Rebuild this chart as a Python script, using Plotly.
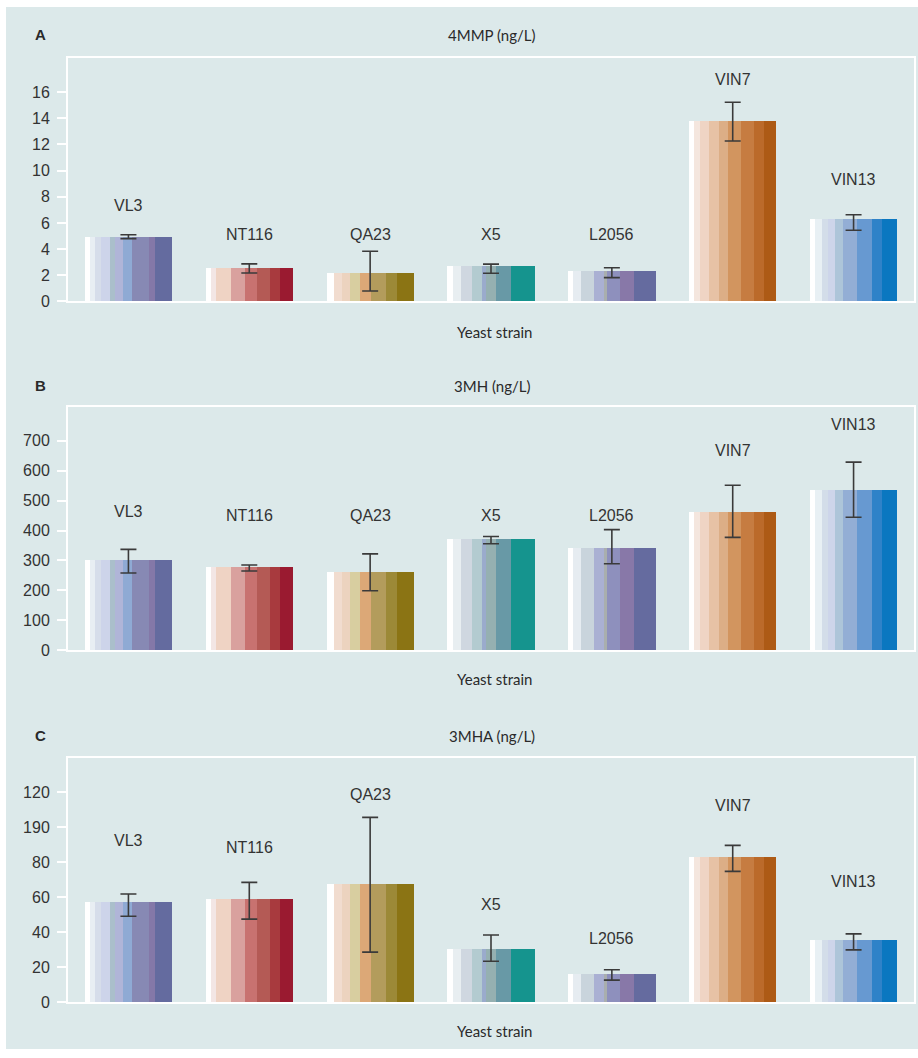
import plotly.graph_objects as go

# ---------------- data ----------------
strains = ['VL3', 'NT116', 'QA23', 'X5', 'L2056', 'VIN7', 'VIN13']

mmp4 = [5.0, 2.6, 2.22, 2.73, 2.4, 13.87, 6.33]
mmp4_err_up = [0.1, 0.27, 1.62, 0.12, 0.18, 1.36, 0.3]
mmp4_err_down = [0.2, 0.43, 1.42, 0.58, 0.58, 1.6, 0.89]
mmp4_label_y = [7.33, 5.11, 5.11, 5.11, 5.11, 16.96, 9.36]

mh3 = [302, 281, 262, 374, 344, 464, 538]
mh3_err_up = [35, 4, 60, 6, 59, 87, 90]
mh3_err_down = [44, 16, 63, 18, 55, 87, 94]
mh3_label_y = [464, 449, 449, 449, 449, 667, 755]

mha3 = [57.2, 58.9, 67.4, 30.4, 16.1, 82.8, 35.5]
mha3_err_up = [4.7, 9.6, 38.2, 8.1, 2.5, 6.8, 3.6]
mha3_err_down = [8.0, 11.4, 38.7, 6.9, 3.4, 8.0, 5.5]
mha3_label_y = [92.6, 88.5, 118.9, 56, 36.2, 112.6, 69]

tick_A = [0, 2, 4, 6, 8, 10, 12, 14, 16]
tick_B = [0, 100, 200, 300, 400, 500, 600, 700]
tick_C_vals = [0, 20, 40, 60, 80, 100, 120]
tick_C_text = ['0', '20', '40', '60', '80', '190', '120']

panel_letters = ['A', 'B', 'C']
panel_titles = ['4MMP (ng/L)', '3MH (ng/L)', '3MHA (ng/L)']
x_title = 'Yeast strain'

# ---------------- styles ----------------
W, H = 918, 1058
stripes = {
    'VL3': [('#ffffff', .06), ('#e8eef3', .06), ('#d6ddea', .07), ('#cdd4ea', .10), ('#aabfcb', .06),
            ('#b0b5d8', .09), ('#8faad4', .10), ('#8789b4', .20), ('#8478a8', .07), ('#646b9f', .19)],
    'NT116': [('#ffffff', .06), ('#f3e6e5', .06), ('#efd3c4', .17), ('#d9a19e', .16), ('#c87270', .14),
              ('#b45a55', .15), ('#a83a3e', .12), ('#9a1a30', .14)],
    'QA23': [('#ffffff', .09), ('#f1dccf', .09), ('#ecd3bf', .09), ('#d8cea0', .11), ('#dca877', .13),
             ('#b39c5c', .17), ('#9c8937', .13), ('#8b7414', .19)],
    'X5': [('#ffffff', .06), ('#e8eef1', .10), ('#cfd7e0', .12), ('#b3cbd0', .12), ('#9aabcc', .04),
           ('#95b0b1', .12), ('#6899a6', .17), ('#15948e', .27)],
    'L2056': [('#ffffff', .06), ('#e6ecf1', .09), ('#c9d4dc', .15), ('#aab0d3', .11), ('#a9aeae', .04),
              ('#8e90bd', .15), ('#8878a8', .16), ('#656b9f', .24)],
    'VIN7': [('#ffffff', .06), ('#f4e6de', .06), ('#efd4c4', .11), ('#e7c2a5', .11), ('#dcae86', .11),
             ('#d2955f', .15), ('#c67c41', .15), ('#bb6a2a', .11), ('#ad5a15', .14)],
    'VIN13': [('#ffffff', .06), ('#e8f0f4', .08), ('#d3dde9', .07), ('#cdd5ea', .08), ('#adc5d9', .09),
              ('#93aed5', .16), ('#6799d1', .17), ('#2f82c8', .12), ('#0a77c0', .17)],
}
bar_w = 0.72
outer_bg = '#dce9ea'
plot_bg = '#e7f0f1'
text_col = '#2a2a2a'
tick_font = dict(family='Liberation Sans, Arial, sans-serif', size=16, color='#333333')
label_font = dict(family='Liberation Sans, Arial, sans-serif', size=16, color='#333333')
title_font = dict(family='Lato, Open Sans, sans-serif', size=15, color=text_col)

# pixel layout of the three plot areas (top, bottom)
plot_x = (68, 914)
plot_y = [(58, 304), (410, 656), (765, 1011)]
letter_y = [35, 389, 742]
xtitle_y = [335, 685, 1040]
yranges = [[0, 18.65], [0, 813.6], [0, 139.2]]


def px_x(p):
    return p / W


def px_y(p):
    return 1 - p / H


panels = [
    (mmp4, mmp4_err_up, mmp4_err_down, mmp4_label_y),
    (mh3, mh3_err_up, mh3_err_down, mh3_label_y),
    (mha3, mha3_err_up, mha3_err_down, mha3_label_y),
]

fig = go.Figure()
annotations = []
layout_axes = {}

for pi, (vals, eup, edn, laby) in enumerate(panels):
    sfx = '' if pi == 0 else str(pi + 1)
    xa, ya = 'x' + sfx, 'y' + sfx
    for ci, s in enumerate(strains):
        xs, ws, cs = [], [], []
        left = ci - bar_w / 2
        for col, frac in stripes[s]:
            w = frac * bar_w
            xs.append(left + w / 2)
            ws.append(w * 1.02)
            cs.append(col)
            left += w
        fig.add_trace(go.Bar(x=xs, y=[vals[ci]] * len(xs), width=ws,
                             marker=dict(color=cs, line=dict(width=0)),
                             xaxis=xa, yaxis=ya, showlegend=False, hoverinfo='skip'))
    fig.add_trace(go.Scatter(x=list(range(len(strains))), y=vals, mode='markers',
                             marker=dict(size=1, color='rgba(0,0,0,0)'),
                             error_y=dict(type='data', symmetric=False, array=eup, arrayminus=edn,
                                          color='#3a3a3a', thickness=1.6, width=8),
                             xaxis=xa, yaxis=ya, showlegend=False, hoverinfo='skip'))
    for ci, s in enumerate(strains):
        annotations.append(dict(x=ci, y=laby[ci], xref=xa, yref=ya, text=s, showarrow=False,
                                font=label_font, xanchor='center', yanchor='middle'))

    top, bot = plot_y[pi]
    layout_axes['xaxis' + sfx] = dict(domain=[px_x(plot_x[0]), px_x(plot_x[1])], range=[-0.5, 6.5],
                                      anchor=ya, showticklabels=False, ticks='', showgrid=False,
                                      zeroline=False, showline=True, linecolor='white', linewidth=2,
                                      mirror=True, fixedrange=True)
    yax = dict(domain=[px_y(bot), px_y(top)], range=yranges[pi], anchor=xa, showgrid=False,
               zeroline=False, showline=True, linecolor='white', linewidth=2, mirror=True,
               ticks='outside', ticklen=9, tickcolor='white', tickwidth=1.5, tickfont=tick_font,
               ticklabelstandoff=4, fixedrange=True)
    if pi == 0:
        yax.update(tickvals=tick_A, ticktext=[str(v) for v in tick_A])
    elif pi == 1:
        yax.update(tickvals=tick_B, ticktext=[str(v) for v in tick_B])
    else:
        yax.update(tickvals=tick_C_vals, ticktext=tick_C_text)
    layout_axes['yaxis' + sfx] = yax

    annotations.append(dict(x=px_x(40), y=px_y(letter_y[pi]), xref='paper', yref='paper',
                            text='<b>' + panel_letters[pi] + '</b>', showarrow=False,
                            font=dict(family='Liberation Sans, Arial, sans-serif', size=15, color=text_col),
                            xanchor='center', yanchor='middle'))
    annotations.append(dict(x=px_x(492), y=px_y(letter_y[pi]), xref='paper', yref='paper',
                            text=panel_titles[pi], showarrow=False, font=title_font,
                            xanchor='center', yanchor='middle'))
    annotations.append(dict(x=px_x(494), y=px_y(xtitle_y[pi]), xref='paper', yref='paper',
                            text=x_title, showarrow=False, font=title_font,
                            xanchor='center', yanchor='middle'))

fig.update_layout(
    width=W, height=H, autosize=False,
    margin=dict(l=0, r=0, t=0, b=0),
    paper_bgcolor='white', plot_bgcolor=plot_bg,
    barmode='overlay', bargap=0,
    showlegend=False,
    annotations=annotations,
    shapes=[dict(type='rect', xref='paper', yref='paper', x0=px_x(6), x1=1, y0=0, y1=px_y(7),
                 fillcolor=outer_bg, line=dict(width=0), layer='below')],
    **layout_axes,
)

fig.write_html('out.html', config={'displayModeBar': False},
               post_script="document.body.style.margin='0';")
